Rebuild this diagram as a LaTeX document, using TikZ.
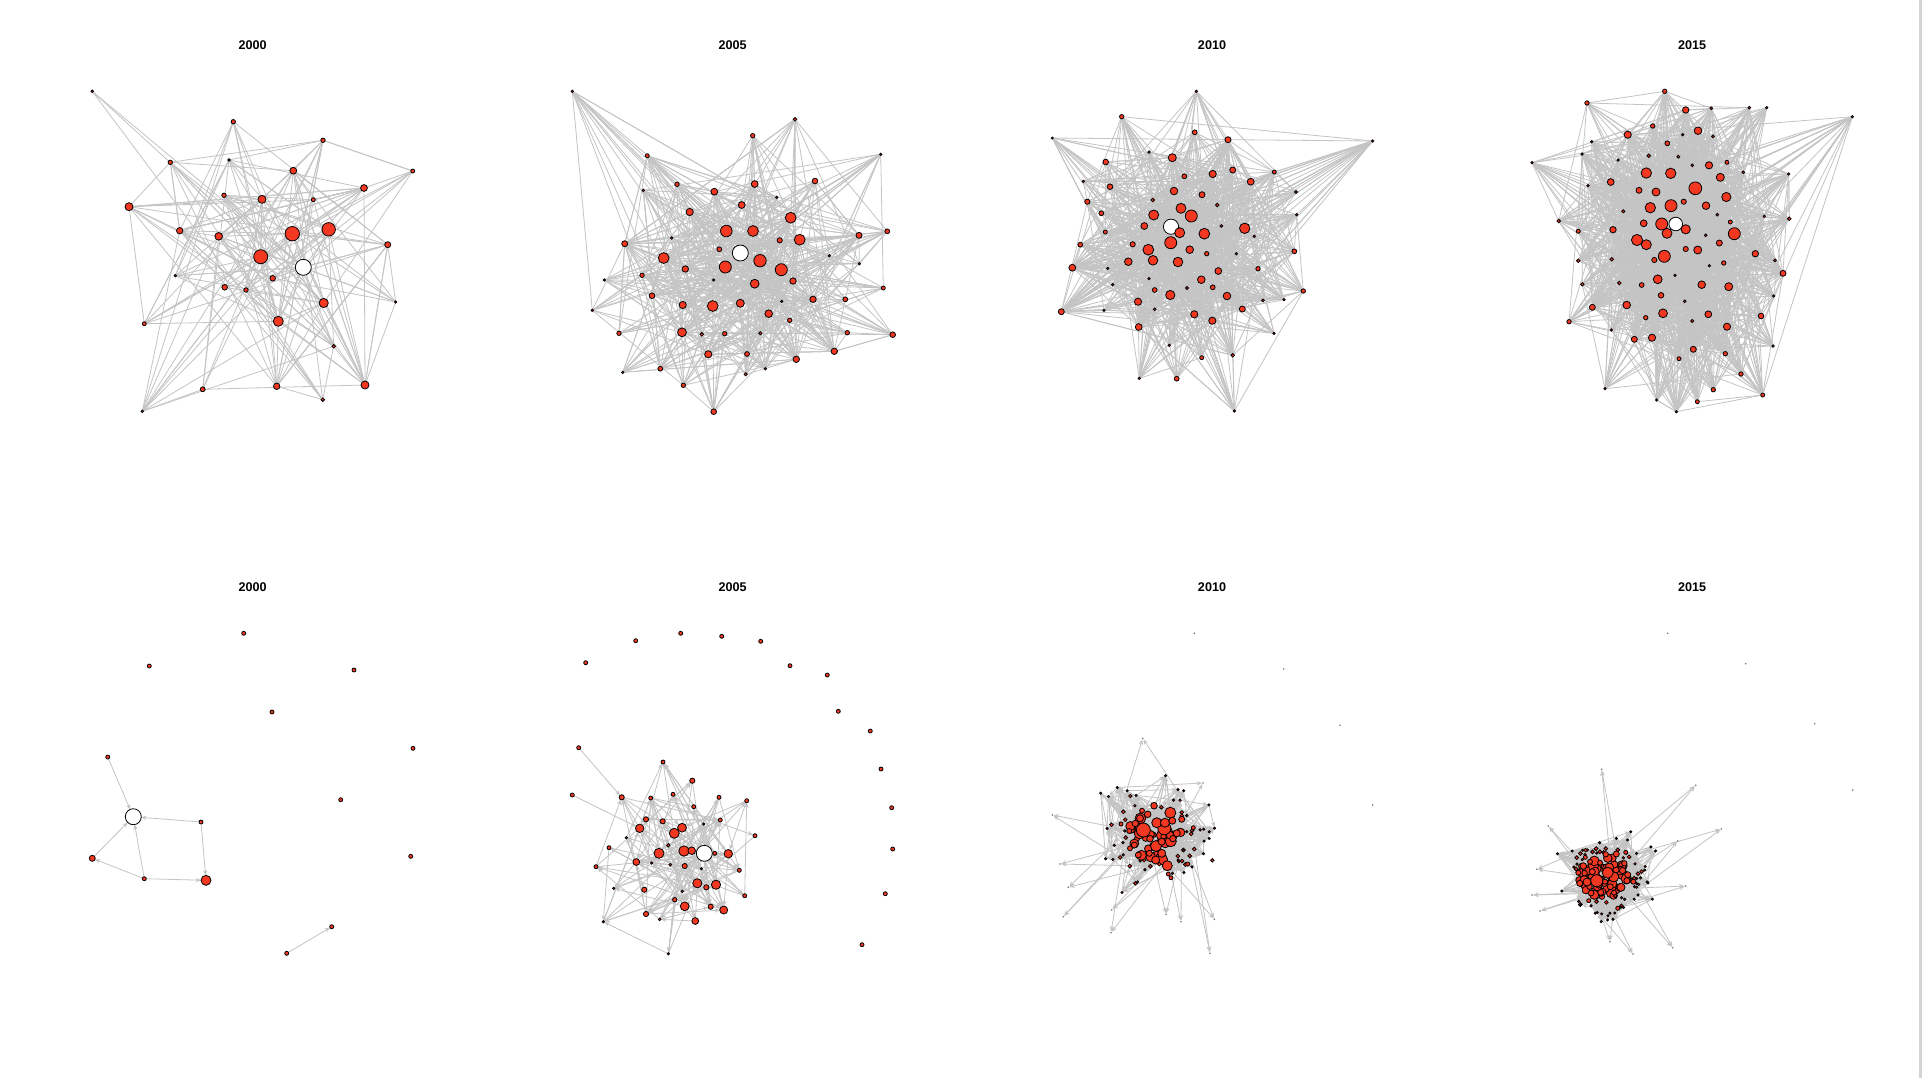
\documentclass[tikz,border=0pt]{standalone}
\usepackage{fontspec}
\setmainfont{Liberation Sans}
\usetikzlibrary{arrows.meta}
\definecolor{nodeRed}{RGB}{243,56,34}
\definecolor{linkGray}{RGB}{196,196,196}
\definecolor{stripGray}{RGB}{212,212,212}
\pgfdeclarelayer{paper}
\pgfdeclarelayer{links}
\pgfsetlayers{paper,links,main}
% indices of the bigger (inner) nodes of each top panel
\gdef\coreTa{}\gdef\coreTb{}\gdef\coreTc{}\gdef\coreTd{}
\newcommand\addcore[2]{\ifdim#2pt>2.9pt\xdef#1{\ifx#1\empty\i\else#1,\i\fi}\fi}

\begin{document}
\begin{tikzpicture}[x=0.5pt, y=-0.5pt,
    vert/.style={circle, draw=black, line width=0.4pt, fill=nodeRed, inner sep=0pt, outer sep=0pt},
    hub/.style={vert, fill=white},
    speck/.style={circle, fill=black!55, inner sep=0pt, minimum size=0.9pt},
    link/.style={draw=linkGray, line width=0.4pt},
    dlink/.style={link, -{Stealth[length=2.6pt, width=2.2pt]}},
    year/.style={font=\fontsize{6.3}{7}\selectfont\bfseries}
  ]
  \begin{pgfonlayer}{paper}
    \fill[white] (0,0) rectangle (1922,1078);
    \fill[stripGray] (1919,0) rectangle (1922,1078);
  \end{pgfonlayer}
  \useasboundingbox (0,0) rectangle (1922,1078);
  \pgfmathsetseed{2015}

  % titles
  \node[year] (tt00) at (252.7,45)  {2000};
  \node[year] (tt05) at (732.7,45)  {2005};
  \node[year] (tt10) at (1212,45)   {2010};
  \node[year] (tt15) at (1692,45)   {2015};
  \node[year] (bt00) at (252.7,586.7) {2000};
  \node[year] (bt05) at (732.7,586.7) {2005};
  \node[year] (bt10) at (1212,586.7)  {2010};
  \node[year] (bt15) at (1692,586.7)  {2015};

  %% top row ------------------------------------------------------------
  \foreach [count=\i] \x/\y/\r in {92.3/91.3/1.3, 233.3/121.7/2.2, 323/140.3/2.2, 170.3/162.3/2.2, 229/160/1.2,
      293.3/170.7/3.4, 412.7/171/2, 364/188/3.4, 224/195.3/2.2, 262/199.3/4, 313.3/199.7/2, 129/206.7/4,
      179.7/230.7/3.2, 218.7/236.3/3.8, 292.3/233.7/7.2, 328.7/229.3/6.7, 387.7/244.7/3, 260.7/256.7/7,
      175.3/275.7/1.2, 272.7/278.3/2.8, 224.7/287.3/2.8, 246/290/2.2, 323.7/303/4.6, 395.7/302/1.2,
      144.3/323.7/2, 278.3/321.3/5, 333.7/346.3/1.8, 202.7/389.3/2.4, 276.7/386.3/3.2, 365/385/4,
      322.7/399.7/1.8, 142.3/411.3/1.2}
    {\node[vert, minimum size=\r pt] (t00n\i) at (\x,\y) {}; \xdef\nTa{\i}\addcore\coreTa\r}
  \node[hub, minimum size=8pt] (t00w) at (303.3,267.3) {};

  \foreach [count=\i] \x/\y/\r in {572.3/91.3/1.2, 795/119.3/1.8, 752.7/135.7/2.2, 647.3/155.7/2, 880.7/154.3/1.2,
      677/184.3/2.2, 714.3/191.7/3.4, 754.7/184/3.4, 815/181/2.8, 643.3/190.3/1.2, 776.7/197.3/1.2,
      741.7/205/3.4, 689.7/212/3.6, 790.7/217.7/5.4, 726.3/231/5.8, 753/231/5.4, 779.7/240.3/2.6,
      799.7/239.7/5.4, 624.7/243.7/3, 671.7/238/1.2, 859/235.3/3, 887.3/231.3/2.4, 719.3/249.3/2.4,
      663.7/258/5.4, 760/260.7/6.2, 829.3/255.7/1.2, 859.3/263.7/1.2, 725.3/267/6, 781.3/269.7/6,
      685.3/269/3.2, 604.3/280/1.2, 642/275.3/2.2, 713.7/280/1.2, 793/281/3.2, 754.7/283.7/4.4,
      652/295.7/2.8, 883.3/288/2, 813/299.3/3.2, 845.3/299.3/2.4, 781.7/301.3/1.2, 592.3/310.3/1.2,
      682.7/305/3.6, 712.7/306/5.4, 740.3/303.3/4, 768.7/313.7/3.8, 789.7/320.3/2.2, 619/333.3/2.2,
      682/332.3/4.4, 701.7/334.3/1.8, 724.7/333.7/2.2, 760.3/333.3/1.6, 847.3/332.7/2.2, 892.7/334.7/2.8,
      708.3/354.3/3.6, 747/354/2.4, 834.3/351.3/3.2, 796.3/359.3/3.2, 622.7/372.3/1.2, 660.3/368.7/2.4,
      745.7/374.3/1.6, 765.3/368.7/1.2, 683.3/385.3/2.2, 713.7/411.7/2.8}
    {\node[vert, minimum size=\r pt] (t05n\i) at (\x,\y) {}; \xdef\nTb{\i}\addcore\coreTb\r}
  \node[hub, minimum size=8pt] (t05w) at (740.3,253) {};

  \node[hub, minimum size=7.6pt] (t10w) at (1171,226.7) {};
  \foreach [count=\i] \x/\y/\r in {1196.3/91.3/1.2, 1121.7/116.7/2.2, 1194.7/132.3/2.4, 1228/139.7/3, 1052.3/138/1,
      1372.7/141/1.2, 1149/152/1.2, 1172.3/157.7/4, 1105.7/162/2.8, 1232.7/170/3, 1184.3/176.3/2.4,
      1212.7/174/3.6, 1274.3/172/2, 1083.3/181.3/1.2, 1250.7/181.7/3.4, 1110/186.7/2.8, 1174/191/3.8,
      1202/194.7/3, 1296/192/1.5, 1087.3/201.7/2.6, 1152.7/200/1.8, 1181/208.3/5, 1191.3/216/6,
      1217.3/205/1.8, 1101.3/213.3/2.4, 1153.7/215/5, 1296.7/214.7/1.2, 1144.3/226/3.4, 1179.7/232.7/5,
      1204.3/233.7/5.4, 1221.3/226/1.4, 1244.7/228.3/5.2, 1105.3/232/2, 1254.3/236.3/1.2, 1080.3/244.7/2.4,
      1132.7/244.3/2.6, 1170.7/242.7/6, 1189.7/249.7/3.8, 1148.3/249.7/5.4, 1206.7/253.7/2.2,
      1236.3/253.7/1.2, 1294.3/251.3/2.4, 1072.3/267.7/3.4, 1128.3/261.7/3.8, 1153/260.3/4.8, 1178/262/4.8,
      1107.7/268.3/1.2, 1258/268.7/2.2, 1218.3/271/3.4, 1149/278.7/1.2, 1201.3/279.7/3.8, 1112.7/284.7/1.2,
      1154.7/290/2.4, 1187/288/1.5, 1212.7/287.3/2.4, 1303.3/291/2.2, 1170.3/295/4.6, 1227/296/3.8,
      1138/301.7/3.6, 1263/300.3/1.4, 1284/299.7/1.2, 1061.3/311.7/3, 1104/310.3/1.2, 1154.7/309.3/1.4,
      1242.3/309/3, 1194.3/314.3/3.6, 1212.3/320.7/3.6, 1138.7/327/3.4, 1274/333.3/1.2, 1169.3/345.3/1.2,
      1201.7/357.7/2, 1232.7/355.3/1.8, 1139.3/378.3/1.2, 1176.7/378.7/2.4, 1234.3/411/1.2}
    {\node[vert, minimum size=\r pt] (t10n\i) at (\x,\y) {}; \xdef\nTc{\i}\addcore\coreTc\r}

  \node[hub, minimum size=6.8pt] (t15w) at (1675.7,224) {};
  \foreach [count=\i] \x/\y/\r in {1664.7/91.3/2.2, 1587/103/2.2, 1685.7/110/3.2, 1711.3/108.3/1.4, 1749.3/107.7/1.4,
      1766.7/107.7/1.2, 1852.3/116.7/1.2, 1652.7/126/2.2, 1627.7/134.7/3.6, 1698/130.7/3.8, 1682.7/134.7/1.2,
      1713/136.3/1.4, 1591.7/141.7/1.2, 1667.3/143.3/2.4, 1582/154/1.2, 1648.7/155.7/1.8, 1678.3/156.7/1.5,
      1618/160/1.2, 1532/162.7/1.2, 1692.3/165.3/1.4, 1709/165.3/3.6, 1727/162.3/2, 1646.3/173/5.2,
      1670.7/173.3/5.2, 1720.3/177.3/4, 1743.3/172.3/1.4, 1788.7/174/1.2, 1610.7/182/3.4, 1588/185.7/1.2,
      1639/190.3/3, 1656/192/4, 1695.3/188.3/6.4, 1726.3/197/4.6, 1683.7/201.7/2.6, 1650.3/207.7/5.2,
      1671/205.7/6, 1706/205.7/3.8, 1623.3/211.3/1.6, 1717.3/214.7/1.4, 1764.3/216.3/1.2, 1558.7/221/1.8,
      1789.3/218.7/1.8, 1578.3/231.3/2, 1613/229.7/3.2, 1643.7/223.3/3.4, 1661.7/224/6, 1685.7/229.3/4.6,
      1667/233.3/5, 1705.7/235.3/1.4, 1730.3/222/2, 1734.3/233.7/6, 1637/240/5.6, 1646.3/244.7/5,
      1719.3/243/3, 1685.7/249/2.6, 1697.7/250/4, 1755.3/253.7/3.2, 1664.3/256.3/6, 1654.3/260/2.6,
      1611.7/259.3/1.8, 1578.3/260.7/1.8, 1723.7/263/2.2, 1775/260.3/1.4, 1709.3/265.7/1.2, 1783/273.3/3,
      1657.7/279.3/4.4, 1675/275.3/1.2, 1582.3/284.3/1.8, 1619.3/283/1.8, 1641.7/285/2.4, 1701.7/284.7/3.8,
      1728.7/286.7/4, 1773.7/296/1.2, 1661/295.3/2.8, 1684.7/301.3/1.4, 1592.3/307.3/3, 1626.7/305/3.8,
      1663/313.3/4.4, 1708.3/314.3/3.4, 1645.7/317.7/2.2, 1761/316/2.8, 1692.3/321/1.6, 1569/321.7/2.2,
      1727/326.7/3.6, 1611.3/330/1.2, 1634.3/339.3/3, 1652/337.7/3.6, 1773/346/1.2, 1693.3/349.3/3,
      1725.3/353.7/2.2, 1679/358.7/2, 1741/374/2.2, 1605/388.7/1.2, 1713.3/389.7/2.2, 1762.7/395/2,
      1656.7/400/1.2, 1697.3/401.7/2, 1676.3/411.7/1.2}
    {\node[vert, minimum size=\r pt] (t15n\i) at (\x,\y) {}; \xdef\nTd{\i}\addcore\coreTd\r}

  \begin{pgfonlayer}{links}
    \foreach \p/\n/\m/\h/\c in {t00/\nTa/190/16/\coreTa, t05/\nTb/620/30/\coreTb,
                                t10/\nTc/1100/40/\coreTc, t15/\nTd/1750/50/\coreTd}{
      \pgfmathtruncatemacro\nc{dim({\c})-1}
      \foreach \k in {1,...,\m}{
        \pgfmathrandominteger{\a}{1}{\n}
        \pgfmathrandominteger{\u}{1}{100}
        \ifnum\u<62
          \pgfmathrandominteger{\j}{0}{\nc}
          \pgfmathtruncatemacro\b{{\c}[\j]}
        \else
          \pgfmathrandominteger{\b}{1}{\n}
        \fi
        \ifnum\a=\b\else\draw[link] (\p n\a) -- (\p n\b);\fi
      }
      \foreach \k in {1,...,\h}{
        \pgfmathrandominteger{\a}{1}{\n}
        \draw[link] (\p w) -- (\p n\a);
      }
    }
  \end{pgfonlayer}

  %% bottom row: 2000 ----------------------------------------------------
  \foreach [count=\i] \x/\y/\r in {243.7/633.3/2, 149.3/666/2, 354/670/2, 272/712/2, 413/748.3/2, 107.7/757/2,
      340.7/799.7/2, 201/822/2, 92.3/858.3/3, 410.7/856.3/2, 144.3/878.7/2, 206/880.3/5, 331.7/926.7/2,
      286.7/953.3/2}
    {\node[vert, minimum size=\r pt] (b00n\i) at (\x,\y) {};}
  \node[hub, minimum size=8pt] (b00w) at (133.3,816.7) {};
  \begin{pgfonlayer}{links}
    \draw[dlink] (b00n6) -- (b00w);
    \draw[dlink] (b00n8) -- (b00w);
    \draw[dlink] (b00n8) -- (b00n12);
    \draw[dlink] (b00n11) -- (b00w);
    \draw[dlink] (b00n11) -- (b00n9);
    \draw[dlink] (b00n11) -- (b00n12);
    \draw[dlink] (b00n9) -- (b00w);
    \draw[dlink] (b00n14) -- (b00n13);
  \end{pgfonlayer}

  %% bottom row: 2005 ----------------------------------------------------
  \foreach [count=\i] \x/\y in {585.7/662.7, 635.7/640.7, 680.7/633.3, 721.7/636.3, 760.7/641.3, 790/665.7,
      827.3/675, 838.3/711.3, 870.3/731, 881/769, 891.7/807.7, 892.7/849, 885.3/893.7, 862/944.7}
    {\node[vert, minimum size=2pt] (b05r\i) at (\x,\y) {};}
  \foreach [count=\i] \x/\y/\r in {578.7/747.7/2, 572.3/795/2, 663/762/2, 692.3/780.7/2.6, 621.7/797.3/2.6,
      650.7/798/2, 673/794.3/2, 719/797.3/2, 746.7/800.7/2, 693.7/806.7/2, 646/819.3/2.6, 662.7/821.3/2.6,
      720.3/820/2, 703.7/824/1.2, 639.7/828.3/4.2, 682/827.7/4.4, 674.3/833.3/5, 626.3/837.7/1.2, 755/835.7/2,
      609/847.7/2, 668.3/845.3/1.8, 659/853.3/5, 684/851/5.2, 691.7/850.7/3.8, 714.7/853.3/2, 728.3/853.7/4.2,
      636.3/862/3.4, 651.7/863/1.2, 670.3/864.7/1.4, 684.7/866/2.6, 596/866.7/2, 701.3/868.7/1.2,
      739.3/870.3/2, 697.3/883.3/4.6, 716/884.7/4.6, 706.3/887.3/2.6, 613.7/888.3/1.2, 644.3/889.7/2.6,
      682.3/891.3/1.2, 744.7/895.7/2, 674.7/899.7/2.2, 684.7/906.3/4.4, 710.7/906.7/2.6, 723.7/910/4,
      646/914/2.6, 659.7/919.3/1.4, 695.3/921/3.4, 603.3/921.7/1.2, 668.3/953.7/1.2}
    {\node[vert, minimum size=\r pt] (b05n\i) at (\x,\y) {}; \xdef\nBb{\i}}
  \node[hub, minimum size=8pt] (b05w) at (704.3,853.3) {};
  \begin{pgfonlayer}{links}
    \foreach \k in {1,...,150}{
      \pgfmathrandominteger{\a}{3}{\nBb}
      \pgfmathrandominteger{\b}{3}{\nBb}
      \ifnum\a=\b\else\draw[dlink] (b05n\a) -- (b05n\b);\fi
    }
    \foreach \k in {1,...,10}{
      \pgfmathrandominteger{\a}{3}{\nBb}
      \draw[dlink] (b05n\a) -- (b05w);
    }
    \draw[dlink] (b05n1) -- (b05n5);
    \draw[dlink] (b05n2) -- (b05n15);
  \end{pgfonlayer}

  %% bottom row: 2010 ----------------------------------------------------
  \foreach [count=\i] \x/\y in {1194.3/633.3, 1283.7/669, 1340/725.3, 1372.7/805}
    {\node[speck] (b10i\i) at (\x,\y) {};}
  \foreach \i in {1,...,95}{
    \pgfmathsetmacro\px{1157+36*(rand+rand)}
    \pgfmathsetmacro\py{838+32*(rand+rand)}
    \pgfmathsetmacro\dd{sqrt(((\px-1155)/60)^2+((\py-836)/55)^2)}
    \pgfmathsetmacro\sz{\dd<0.45 ? 2.6+3*rnd : (\dd<0.8 ? (rnd<0.5 ? 1.9 : 1.2) : 1.1)}
    \node[vert, minimum size=\sz pt] (b10s\i) at (\px,\py) {};
  }
  \foreach [count=\i] \x/\y/\r in {1143.3/830/7, 1164.3/828.3/6.5, 1170.3/812.7/5.5, 1156/846/5.5, 1167.3/865.7/5,
      1154/805.7/3.3, 1140/818.3/3.5, 1147.7/814.3/3.3, 1156.7/822.7/5, 1176.7/833.3/3.5, 1134.3/845/3,
      1138.3/855/3, 1155.7/860/4, 1161.7/853.3/4, 1150/838.7/3.3, 1129.3/831/2.5, 1181.7/819.3/3,
      1142/810.7/2.5, 1165/822.7/4.5, 1149.3/853.3/3, 1172.3/820.7/3.5, 1161.7/841.7/3.5, 1130/848.3/2.5,
      1168.3/874/2, 1171/877.7/2, 1193.3/827.7/2, 1187.7/864/2, 1130.3/796/1.7, 1121/824/2,
      1135.3/883.3/1.8, 1212.3/860.3/1.8}
    {\node[vert, minimum size=\r pt] (b10n\i) at (\x,\y) {}; \xdef\nBc{\i}}
  \foreach [count=\i] \x/\y in {1142.7/738.3, 1052.3/815, 1060/864, 1063.3/916.7, 1111/932.7, 1210/953.3,
      1214.3/919.3, 1166/914.3, 1181/921.7, 1111.7/910, 1068.3/887.3, 1203/783}
    {\node[speck] (b10o\i) at (\x,\y) {};}

  %% bottom row: 2015 ----------------------------------------------------
  \foreach [count=\i] \x/\y in {1667.7/633.3, 1745.7/663.7, 1814.7/723.7, 1852.7/790}
    {\node[speck] (b15i\i) at (\x,\y) {};}
  \foreach \i in {1,...,140}{
    \pgfmathsetmacro\px{1603+27*(rand+rand)}
    \pgfmathsetmacro\py{877+23*(rand+rand)}
    \pgfmathsetmacro\dd{sqrt(((\px-1603)/50)^2+((\py-877)/42)^2)}
    \pgfmathsetmacro\sz{\dd<0.5 ? 2.4+3*rnd : (\dd<0.8 ? (rnd<0.5 ? 1.9 : 1.2) : 1.1)}
    \node[vert, minimum size=\sz pt] (b15s\i) at (\px,\py) {};
  }
  \foreach [count=\i] \x/\y/\r in {1596.7/880.7/6, 1607.7/872.7/5.5, 1587/882/4, 1621/887.3/4, 1583.3/866/3.3,
      1592.3/871.7/3, 1616.3/854/3, 1605.7/854.3/2.7, 1624.3/863.3/2.7, 1579.7/883.3/3, 1610.3/886.7/3,
      1600.7/892.3/3, 1614/892.7/2.5, 1627.7/874.7/3, 1633.3/881.7/2.5, 1590/861.7/2.5, 1600/862.7/2.5,
      1585.3/857.3/2, 1578.3/872.7/2.5, 1605/881.7/2.5, 1617.7/908.3/2, 1588.7/900.7/2, 1625.7/852.3/2}
    {\node[vert, minimum size=\r pt] (b15n\i) at (\x,\y) {}; \xdef\nBd{\i}}
  \foreach [count=\i] \x/\y in {1601.7/769.3, 1695.7/785.3, 1721.3/829, 1548.3/826, 1536.7/869.3, 1532/895,
      1540/911, 1633/954, 1672.7/947.7, 1685.7/886, 1610/941.7, 1677.7/841}
    {\node[speck] (b15o\i) at (\x,\y) {};}

  \begin{pgfonlayer}{links}
    \foreach \p/\s/\m/\q in {b10/95/460/150, b15/140/720/200}{
      \foreach \k in {1,...,\m}{
        \pgfmathrandominteger{\a}{1}{\s}
        \pgfmathrandominteger{\b}{1}{\s}
        \ifnum\a=\b\else\draw[dlink] (\p s\a) -- (\p s\b);\fi
      }
      \foreach \k in {1,...,\q}{
        \pgfmathrandominteger{\a}{1}{\s}
        \pgfmathrandominteger{\b}{1}{20}
        \draw[dlink] (\p s\a) -- (\p n\b);
      }
      \foreach \o in {1,...,12}{
        \pgfmathrandominteger{\a}{1}{\s}
        \pgfmathrandominteger{\b}{1}{\s}
        \draw[dlink] (\p s\a) -- (\p o\o);
        \draw[dlink] (\p s\b) -- (\p o\o);
      }
    }
  \end{pgfonlayer}
\end{tikzpicture}
\end{document}
